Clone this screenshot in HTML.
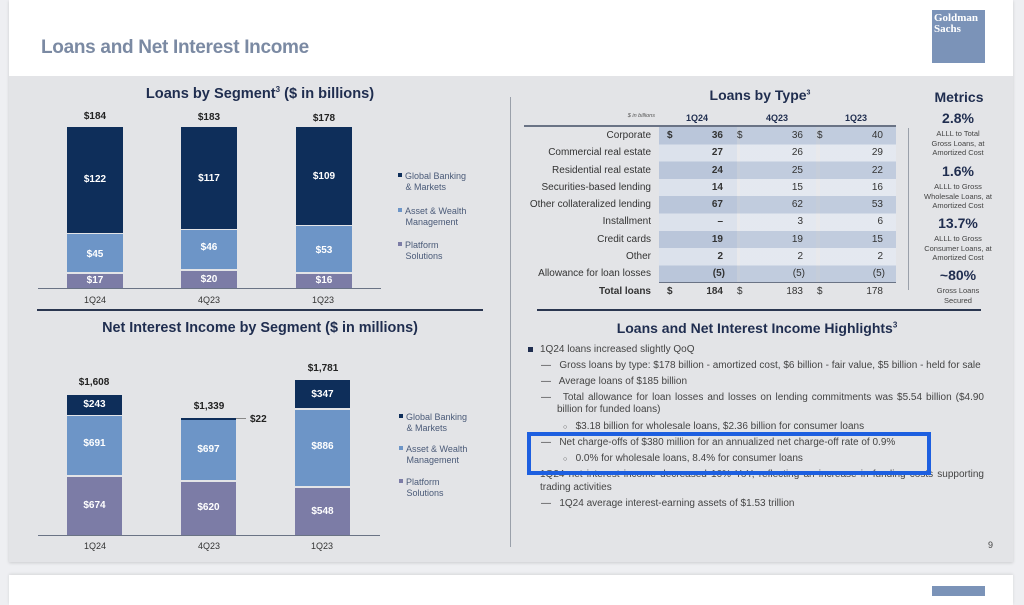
<!DOCTYPE html>
<html><head><meta charset="utf-8"><style>
*{margin:0;padding:0;box-sizing:border-box}
body{width:1024px;height:592px;background:#eeeff2;font-family:"Liberation Sans",Arial,sans-serif;position:relative;overflow:hidden;color:#333}
.a{position:absolute}
.card{left:9px;top:0;width:1004px;height:562px;background:#e3e4e7;box-shadow:0 1px 3px rgba(0,0,0,.15)}
.hdr{left:9px;top:0;width:1004px;height:76px;background:#fff}
.card2{left:9px;top:575px;width:1004px;height:30px;background:#fff;box-shadow:0 -1px 3px rgba(0,0,0,.1)}
.t{font-weight:bold;color:#1f2d4f;text-align:center;white-space:nowrap}
.bar{position:absolute}
.dk{background:#0e2e5a}.lt{background:#6d95c7}.pu{background:#7c7ca6}
.bl{position:absolute;left:0;right:0;text-align:center;color:#fff;font-weight:bold;font-size:10px}
.tot{font-size:10px;font-weight:bold;color:#222;text-align:center;width:80px}
.xl{font-size:9px;color:#333;text-align:center;width:60px}
.leg{font-size:9px;color:#4a5a78;line-height:11px}
.leg span{display:inline-block;width:4px;height:4px;margin-right:3px;vertical-align:2px}
.row{font-size:10px;color:#333;height:17.3px;line-height:17.3px}
.met{color:#1f2d4f;font-weight:bold;font-size:14px;text-align:center;width:80px}
.ms{font-size:7.5px;color:#444;text-align:center;width:84px;line-height:9.5px}
.hl{font-size:10px;color:#444;white-space:nowrap}
.j{white-space:normal;text-align:justify;text-align-last:justify}
</style></head><body>
<div class="a card"></div>
<div class="a hdr"></div>
<div class="a card2"></div>
<div class="a" style="left:41px;top:37px;font-size:19px;font-weight:bold;color:#7b8aa3;letter-spacing:-0.3px">Loans and Net Interest Income</div>
<div class="a" style="left:932px;top:10px;width:53px;height:53px;background:#7b93b8;color:#fff;font-family:'Liberation Serif',serif;font-weight:bold;font-size:11px;line-height:11px;padding:3px 2px">Goldman<br>Sachs</div>
<div class="a" style="left:932px;top:586px;width:53px;height:10px;background:#7b93b8"></div>

<!-- Loans by segment -->
<div class="a t" style="left:90px;top:85px;width:340px;font-size:14.6px">Loans by Segment<sup style="font-size:8px">3</sup> ($ in billions)</div>
<div class="a tot" style="left:55px;top:111px">$184</div>
<div class="a tot" style="left:169px;top:112px">$183</div>
<div class="a tot" style="left:284px;top:113px">$178</div>
<div class="bar dk" style="left:67px;top:127px;width:56px;height:106px"><div class="bl" style="top:47px">$122</div></div>
<div class="bar lt" style="left:67px;top:234px;width:56px;height:38px"><div class="bl" style="top:15px">$45</div></div>
<div class="bar pu" style="left:67px;top:274px;width:56px;height:14px"><div class="bl" style="top:1px">$17</div></div>
<div class="bar dk" style="left:181px;top:127px;width:56px;height:102px"><div class="bl" style="top:46px">$117</div></div>
<div class="bar lt" style="left:181px;top:230px;width:56px;height:39px"><div class="bl" style="top:12px">$46</div></div>
<div class="bar pu" style="left:181px;top:271px;width:56px;height:17px"><div class="bl" style="top:3px">$20</div></div>
<div class="bar dk" style="left:296px;top:127px;width:56px;height:98px"><div class="bl" style="top:44px">$109</div></div>
<div class="bar lt" style="left:296px;top:226px;width:56px;height:46px"><div class="bl" style="top:19px">$53</div></div>
<div class="bar pu" style="left:296px;top:274px;width:56px;height:14px"><div class="bl" style="top:1px">$16</div></div>
<div class="a" style="left:38px;top:288px;width:343px;height:1px;background:#6a7385"></div>
<div class="a xl" style="left:65px;top:295px">1Q24</div>
<div class="a xl" style="left:179px;top:295px">4Q23</div>
<div class="a xl" style="left:293px;top:295px">1Q23</div>
<div class="a leg" style="left:398px;top:171px"><span class="dk"></span>Global Banking<br>&nbsp;&nbsp;&nbsp;&amp; Markets</div>
<div class="a leg" style="left:398px;top:206px"><span class="lt"></span>Asset &amp; Wealth<br>&nbsp;&nbsp;&nbsp;Management</div>
<div class="a leg" style="left:398px;top:240px"><span class="pu"></span>Platform<br>&nbsp;&nbsp;&nbsp;Solutions</div>
<div class="a" style="left:37px;top:309px;width:446px;height:2px;background:#2a3650"></div>

<!-- NII -->
<div class="a t" style="left:60px;top:320px;width:400px;font-size:14.4px">Net Interest Income by Segment ($ in millions)</div>
<div class="a tot" style="left:54px;top:377px">$1,608</div>
<div class="a tot" style="left:169px;top:401px">$1,339</div>
<div class="a tot" style="left:283px;top:363px">$1,781</div>
<div class="bar dk" style="left:67px;top:395px;width:55px;height:20px"><div class="bl" style="top:4px">$243</div></div>
<div class="bar lt" style="left:67px;top:416px;width:55px;height:59px"><div class="bl" style="top:22px">$691</div></div>
<div class="bar pu" style="left:67px;top:477px;width:55px;height:58px"><div class="bl" style="top:23px">$674</div></div>
<div class="bar dk" style="left:181px;top:418px;width:55px;height:2px"></div>
<div class="bar lt" style="left:181px;top:420px;width:55px;height:60px"><div class="bl" style="top:24px">$697</div></div>
<div class="bar pu" style="left:181px;top:482px;width:55px;height:53px"><div class="bl" style="top:20px">$620</div></div>
<div class="a" style="left:236px;top:418px;width:10px;height:1px;background:#888"></div>
<div class="a" style="left:250px;top:414px;font-size:10px;font-weight:bold;color:#222">$22</div>
<div class="bar dk" style="left:295px;top:380px;width:55px;height:28px"><div class="bl" style="top:9px">$347</div></div>
<div class="bar lt" style="left:295px;top:410px;width:55px;height:76px"><div class="bl" style="top:31px">$886</div></div>
<div class="bar pu" style="left:295px;top:488px;width:55px;height:47px"><div class="bl" style="top:18px">$548</div></div>
<div class="a" style="left:38px;top:535px;width:342px;height:1px;background:#6a7385"></div>
<div class="a xl" style="left:65px;top:541px">1Q24</div>
<div class="a xl" style="left:179px;top:541px">4Q23</div>
<div class="a xl" style="left:292px;top:541px">1Q23</div>
<div class="a leg" style="left:399px;top:412px"><span class="dk"></span>Global Banking<br>&nbsp;&nbsp;&nbsp;&amp; Markets</div>
<div class="a leg" style="left:399px;top:444px"><span class="lt"></span>Asset &amp; Wealth<br>&nbsp;&nbsp;&nbsp;Management</div>
<div class="a leg" style="left:399px;top:477px"><span class="pu"></span>Platform<br>&nbsp;&nbsp;&nbsp;Solutions</div>

<div class="a" style="left:510px;top:97px;width:1px;height:450px;background:#9aa0aa"></div>

<!-- Table -->
<div class="a t" style="left:660px;top:87px;width:200px;font-size:14px">Loans by Type<sup style="font-size:7px">3</sup></div>
<div class="a" style="left:560px;top:113px;width:95px;text-align:right;font-size:5.5px;font-style:italic;color:#555">$ in billions</div>
<div class="a" style="left:686px;top:113px;font-size:9px;font-weight:bold;color:#1f2d4f">1Q24</div>
<div class="a" style="left:766px;top:113px;font-size:9px;font-weight:bold;color:#1f2d4f">4Q23</div>
<div class="a" style="left:845px;top:113px;font-size:9px;font-weight:bold;color:#1f2d4f">1Q23</div>
<div class="a" style="left:524px;top:125px;width:372px;height:2px;background:#6a7385"></div>
<div class="a" style="left:659px;top:127px;width:78px;height:156px;background:#d3dbe7"></div>
<div class="a" style="left:740px;top:127px;width:76px;height:156px;background:#dde3ec"></div>
<div class="a" style="left:820px;top:127px;width:76px;height:156px;background:#dde3ec"></div>
<div class="a" style="left:659px;top:127px;width:237px;height:156px;background:repeating-linear-gradient(to bottom,rgba(120,145,185,.28) 0 17.3px,rgba(255,255,255,.2) 17.3px 34.6px)"></div>
<div class="a" style="left:659px;top:282px;width:237px;height:1px;background:#6a7385"></div>
<div class="a" style="left:908px;top:128px;width:1px;height:162px;background:#9aa0aa"></div>
<div class="a" style="left:520px;top:127px;width:376px">
<div class="row" style="display:flex"><div style="width:131px;text-align:right">Corporate</div><div style="width:78px;padding-left:16px;font-weight:bold">$<span style="float:right;padding-right:6px">36</span></div><div style="width:80px;padding-left:8px">$<span style="float:right;padding-right:6px">36</span></div><div style="width:80px;padding-left:8px">$<span style="float:right;padding-right:6px">40</span></div></div>
<div class="row" style="display:flex"><div style="width:131px;text-align:right">Commercial real estate</div><div style="width:78px;text-align:right;padding-right:6px;font-weight:bold">27</div><div style="width:80px;text-align:right;padding-right:6px">26</div><div style="width:80px;text-align:right;padding-right:6px">29</div></div>
<div class="row" style="display:flex"><div style="width:131px;text-align:right">Residential real estate</div><div style="width:78px;text-align:right;padding-right:6px;font-weight:bold">24</div><div style="width:80px;text-align:right;padding-right:6px">25</div><div style="width:80px;text-align:right;padding-right:6px">22</div></div>
<div class="row" style="display:flex"><div style="width:131px;text-align:right">Securities-based lending</div><div style="width:78px;text-align:right;padding-right:6px;font-weight:bold">14</div><div style="width:80px;text-align:right;padding-right:6px">15</div><div style="width:80px;text-align:right;padding-right:6px">16</div></div>
<div class="row" style="display:flex"><div style="width:131px;text-align:right;white-space:nowrap">Other collateralized lending</div><div style="width:78px;text-align:right;padding-right:6px;font-weight:bold">67</div><div style="width:80px;text-align:right;padding-right:6px">62</div><div style="width:80px;text-align:right;padding-right:6px">53</div></div>
<div class="row" style="display:flex"><div style="width:131px;text-align:right">Installment</div><div style="width:78px;text-align:right;padding-right:6px;font-weight:bold">–</div><div style="width:80px;text-align:right;padding-right:6px">3</div><div style="width:80px;text-align:right;padding-right:6px">6</div></div>
<div class="row" style="display:flex"><div style="width:131px;text-align:right">Credit cards</div><div style="width:78px;text-align:right;padding-right:6px;font-weight:bold">19</div><div style="width:80px;text-align:right;padding-right:6px">19</div><div style="width:80px;text-align:right;padding-right:6px">15</div></div>
<div class="row" style="display:flex"><div style="width:131px;text-align:right">Other</div><div style="width:78px;text-align:right;padding-right:6px;font-weight:bold">2</div><div style="width:80px;text-align:right;padding-right:6px">2</div><div style="width:80px;text-align:right;padding-right:6px">2</div></div>
<div class="row" style="display:flex"><div style="width:131px;text-align:right;white-space:nowrap">Allowance for loan losses</div><div style="width:78px;text-align:right;padding-right:4px;font-weight:bold">(5)</div><div style="width:80px;text-align:right;padding-right:4px">(5)</div><div style="width:80px;text-align:right;padding-right:4px">(5)</div></div>
<div class="row" style="display:flex"><div style="width:131px;text-align:right;font-weight:bold">Total loans</div><div style="width:78px;padding-left:16px;font-weight:bold">$<span style="float:right;padding-right:6px">184</span></div><div style="width:80px;padding-left:8px">$<span style="float:right;padding-right:6px">183</span></div><div style="width:80px;padding-left:8px">$<span style="float:right;padding-right:6px">178</span></div></div>
</div>

<div class="a t" style="left:919px;top:89px;width:80px;font-size:14px">Metrics</div>
<div class="a met" style="left:918px;top:110px">2.8%</div>
<div class="a ms" style="left:916px;top:129px">ALLL to Total<br>Gross Loans, at<br>Amortized Cost</div>
<div class="a met" style="left:918px;top:163px">1.6%</div>
<div class="a ms" style="left:916px;top:182px">ALLL to Gross<br>Wholesale Loans, at<br>Amortized Cost</div>
<div class="a met" style="left:918px;top:215px">13.7%</div>
<div class="a ms" style="left:916px;top:234px">ALLL to Gross<br>Consumer Loans, at<br>Amortized Cost</div>
<div class="a met" style="left:918px;top:267px">~80%</div>
<div class="a ms" style="left:916px;top:286px">Gross Loans<br>Secured</div>
<div class="a" style="left:537px;top:309px;width:444px;height:2px;background:#2a3650"></div>

<div class="a t" style="left:560px;top:320px;width:394px;font-size:14px">Loans and Net Interest Income Highlights<sup style="font-size:8px">3</sup></div>
<div class="a" style="left:528px;top:347px;width:5px;height:5px;background:#1f2d4f"></div>
<div class="a hl" style="left:540px;top:344px">1Q24 loans increased slightly QoQ</div>
<div class="a hl" style="left:541px;top:360px">—&nbsp;&nbsp; Gross loans by type: $178 billion - amortized cost, $6 billion - fair value, $5 billion - held for sale</div>
<div class="a hl" style="left:541px;top:376px">—&nbsp;&nbsp; Average loans of $185 billion</div>
<div class="a hl j" style="left:541px;top:392px;width:443px">—&nbsp;&nbsp; Total allowance for loan losses and losses on lending commitments was $5.54 billion ($4.90</div>
<div class="a hl" style="left:557px;top:404px">billion for funded loans)</div>
<div class="a hl" style="left:563px;top:421px"><span style="font-size:7px">○</span>&nbsp;&nbsp; $3.18 billion for wholesale loans, $2.36 billion for consumer loans</div>
<div class="a hl" style="left:541px;top:437px">—&nbsp;&nbsp; Net charge-offs of $380 million for an annualized net charge-off rate of 0.9%</div>
<div class="a hl" style="left:563px;top:453px"><span style="font-size:7px">○</span>&nbsp;&nbsp; 0.0% for wholesale loans, 8.4% for consumer loans</div>
<div class="a hl j" style="left:540px;top:469px;width:444px">1Q24 net interest income decreased 10% YoY, reflecting an increase in funding costs supporting</div>
<div class="a hl" style="left:540px;top:482px">trading activities</div>
<div class="a hl" style="left:541px;top:498px">—&nbsp;&nbsp; 1Q24 average interest-earning assets of $1.53 trillion</div>
<div class="a" style="left:527px;top:432px;width:404px;height:43px;border:4px solid #1d5fe0"></div>
<div class="a" style="left:988px;top:540px;font-size:9px;color:#444">9</div>
</body></html>
